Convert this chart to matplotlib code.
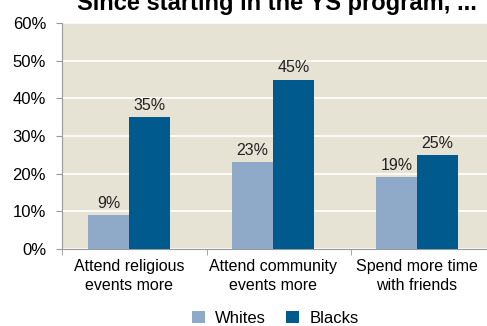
import matplotlib.pyplot as plt
import numpy as np

plt.rcParams['font.family'] = ['Liberation Sans', 'DejaVu Sans']

categories = ['Attend religious\nevents more', 'Attend community\nevents more', 'Spend more time\nwith friends']
whites = [9, 23, 19]
blacks = [35, 45, 25]
yticks = [0, 10, 20, 30, 40, 50, 60]

c_white = '#8FA9C9'
c_black = '#005A8D'
bg = '#E6E2D4'

fig = plt.figure(figsize=(4.87, 3.26), dpi=100)
ax = fig.add_axes([62/487, 1-249/326, 1-62/487, (249-23)/326])
ax.set_facecolor(bg)

x = np.arange(len(categories))
w = 0.285
b1 = ax.bar(x - w/2, whites, w, color=c_white, label='Whites', zorder=3)
b2 = ax.bar(x + w/2, blacks, w, color=c_black, label='Blacks', zorder=3)

for bars, vals in [(b1, whites), (b2, blacks)]:
    for r, v in zip(bars, vals):
        ax.text(r.get_x() + r.get_width()/2, v + 1.1, f'{v}%', ha='center', va='bottom',
                fontsize=11.5, color='#222222')

ax.set_ylim(0, 60)
ax.set_xlim(-0.465, 2.486)
ax.set_yticks(yticks)
ax.set_yticklabels([f'{t}%' for t in yticks], fontsize=12)
ax.yaxis.grid(True, color='white', linewidth=1.2, zorder=0)
ax.set_axisbelow(True)

ax.set_xticks(x)
ax.set_xticklabels(categories, fontsize=11.5, linespacing=1.35)
ax.set_xticks([-0.465, 0.54, 1.54], minor=True)
ax.tick_params(axis='x', which='major', length=0, pad=7)
ax.tick_params(axis='x', which='minor', length=4, color='#999999', direction='out')
ax.tick_params(axis='y', length=4, color='#999999', direction='out', pad=7.5)

for s in ['top', 'right']:
    ax.spines[s].set_visible(False)
for s in ['left', 'bottom']:
    ax.spines[s].set_color('#999999')

fig.legend(loc='lower center', bbox_to_anchor=(0.565, -0.045), ncol=2, frameon=False,
           fontsize=12, handlelength=0.8, handleheight=0.8, handletextpad=0.6, columnspacing=1.2)

fig.text(77/487, 1 - 10/326, 'Since starting in the YS program, ...', fontsize=17,
         fontweight='bold', ha='left', va='baseline')

fig.savefig('out.png', dpi=100)
